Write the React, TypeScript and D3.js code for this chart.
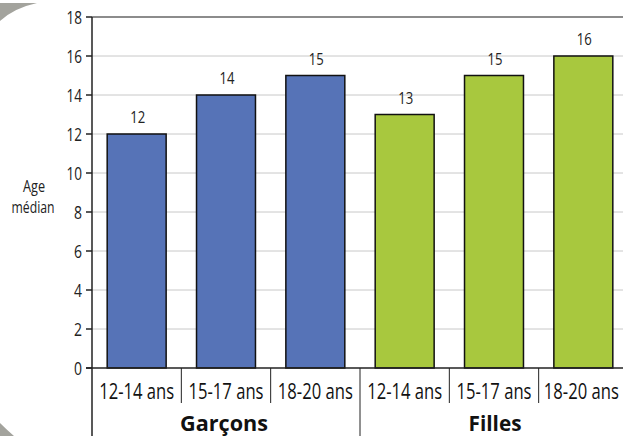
import React from "react";
import * as d3 from "d3";

const groups = ["Garçons", "Filles"];
const categories = ["12-14 ans", "15-17 ans", "18-20 ans", "12-14 ans", "15-17 ans", "18-20 ans"];
const categoryGroup = [0, 0, 0, 1, 1, 1];
const values = [12, 14, 15, 13, 15, 16];
const yTicks = [0, 2, 4, 6, 8, 10, 12, 14, 16, 18];
const groupColors = ["#5673b7", "#a8c83e"];

const W = 623;
const H = 436;
const FONT = "'Open Sans', 'Noto Sans', sans-serif";

export default function App() {
  const x = d3.scaleBand<number>().domain(d3.range(categories.length)).range([92, 628]).padding(0);
  const y = d3.scaleLinear().domain([0, 18]).range([368, 17]);
  const bw = x.bandwidth();
  const barW = bw * 0.66;
  const left = 92;
  const base = y(0);

  const groupStart = (g: number) => x(categoryGroup.indexOf(g))!;
  const groupEnd = (g: number) => x(categoryGroup.lastIndexOf(g))! + bw;

  return (
    <svg width={W} height={H} style={{ position: "absolute", left: 0, top: 0, background: "#fff" }} fontFamily={FONT}>
      <rect x={0} y={0} width={W} height={H} fill="#fff" />
      <path d="M0,3 L37,3 Q14,8 0,21 Z" fill="#a3a39d" />
      <path d="M0,423 Q7,430 14,436 L0,436 Z" fill="#a3a39d" />

      {/* gridlines */}
      {yTicks.filter((t) => t > 0 && t < 18).map((t) => (
        <line key={"g" + t} x1={left} x2={W} y1={y(t)} y2={y(t)} stroke="#c8c8c8" strokeWidth={1} />
      ))}
      <line x1={left} x2={W} y1={y(18)} y2={y(18)} stroke="#666" strokeWidth={1.5} />

      {/* bars */}
      {values.map((v, i) => (
        <g key={"b" + i}>
          <rect
            x={x(i)! + (bw - barW) / 2}
            y={y(v)}
            width={barW}
            height={base - y(v)}
            fill={groupColors[categoryGroup[i]]}
            stroke="#111"
            strokeWidth={1.5}
          />
          <text
            x={x(i)! + bw / 2 + 1}
            y={y(v) - 11}
            fontSize={17}
            textAnchor="middle"
            fill="#222"
            textLength={v >= 10 ? 15 : 7.5}
            lengthAdjust="spacingAndGlyphs"
          >
            {v}
          </text>
        </g>
      ))}

      {/* y axis */}
      <line x1={left} x2={left} y1={y(18)} y2={H} stroke="#222" strokeWidth={1.5} />
      {yTicks.map((t) => (
        <g key={"t" + t}>
          <line x1={left - 6} x2={left} y1={y(t)} y2={y(t)} stroke="#222" strokeWidth={1.5} />
          <text
            x={82}
            y={y(t) + 6.5}
            fontSize={17.5}
            textAnchor="end"
            fill="#222"
            textLength={t >= 10 ? 15.5 : 8}
            lengthAdjust="spacingAndGlyphs"
          >
            {t}
          </text>
        </g>
      ))}

      {/* x axis baseline */}
      <line x1={left - 6} x2={W} y1={base} y2={base} stroke="#222" strokeWidth={1.5} />

      {/* category separators & labels */}
      {categories.map((c, i) => {
        const isGroupStart = i === 0 || categoryGroup[i] !== categoryGroup[i - 1];
        const isLast = i === categories.length - 1;
        return (
          <g key={"c" + i}>
            {i > 0 && (
              <line
                x1={x(i)!}
                x2={x(i)!}
                y1={base}
                y2={isGroupStart ? H : 403}
                stroke="#222"
                strokeWidth={1}
              />
            )}
            <text
              x={x(i)! + bw / 2 - (isLast ? 2 : 0)}
              y={399}
              fontSize={21}
              textAnchor="middle"
              fill="#111"
              textLength={75}
              lengthAdjust="spacingAndGlyphs"
            >
              {c}
            </text>
          </g>
        );
      })}

      {groups.map((g, gi) => (
        <text
          key={"gr" + gi}
          x={(groupStart(gi) + Math.min(groupEnd(gi), gi === 1 ? 622 : 10000)) / 2 + (gi === 1 ? 4 : -2)}
          y={431}
          fontSize={21}
          fontWeight="bold"
          textAnchor="middle"
          fill="#111"
          textLength={g === "Garçons" ? 88 : 53}
          lengthAdjust="spacingAndGlyphs"
        >
          {g}
        </text>
      ))}

      {/* y-axis title */}
      <text x={34} y={192} fontSize={16} textAnchor="middle" fill="#222" textLength={22} lengthAdjust="spacingAndGlyphs">
        Age
      </text>
      <text x={33} y={213} fontSize={16} textAnchor="middle" fill="#222" textLength={43} lengthAdjust="spacingAndGlyphs">
        médian
      </text>
    </svg>
  );
}
